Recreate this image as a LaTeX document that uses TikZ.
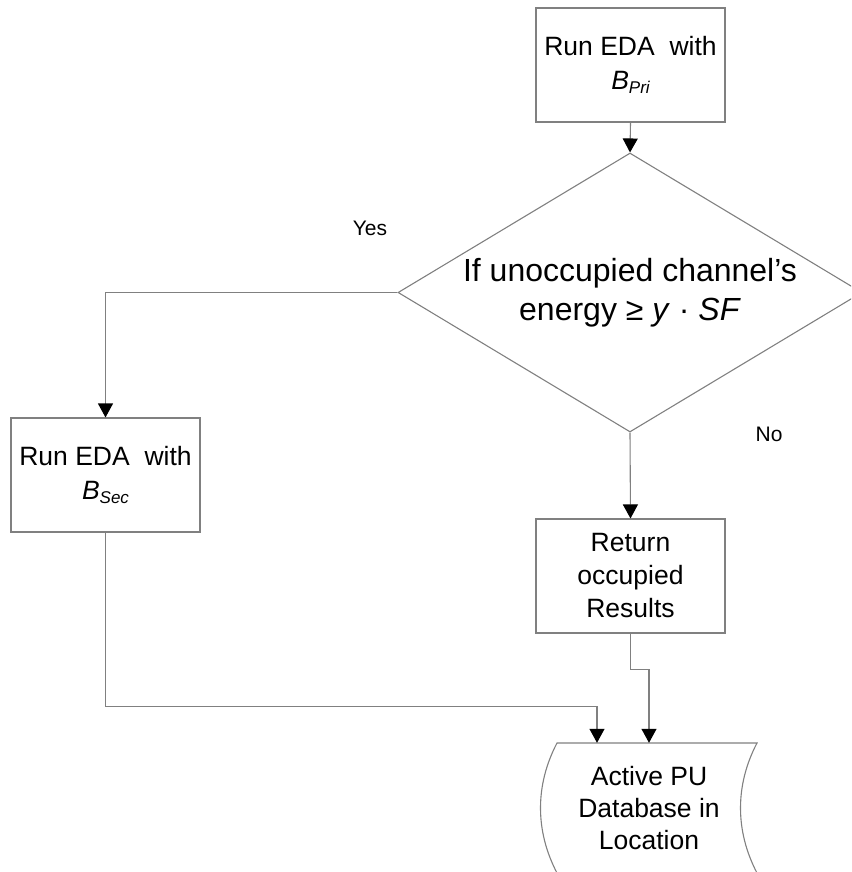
\documentclass[tikz,border=0pt]{standalone}
\usepackage{fontspec}
\setmainfont{Liberation Sans}
\usetikzlibrary{arrows.meta,shapes.geometric,calc}
\definecolor{linegray}{RGB}{128,128,128}
\newcommand{\subtxt}[1]{\raisebox{-4pt}{\fontsize{17}{17}\selectfont\itshape #1}}
\begin{document}
\begin{tikzpicture}[x=1pt,y=-1pt,
  box/.style={draw=linegray, line width=1.1pt, minimum width=189pt, minimum height=114pt,
    inner sep=0pt, align=center, font=\fontsize{26.5}{33}\selectfont},
  conn/.style={draw=linegray, line width=1.1pt, -{Triangle[width=15pt,length=14pt,color=black]}},
  plain/.style={draw=linegray, line width=1.1pt},
  lbl/.style={font=\fontsize{21}{25}\selectfont, inner sep=0pt}]
\useasboundingbox (0,0) rectangle (851,872);
\clip (0,0) rectangle (851,872);
\node[box] (top) at (630.5,65) {Run EDA\ \ with\\[1pt]\textit{B}\subtxt{Pri}};
\node[diamond, draw=linegray, line width=1.1pt, aspect=1.663, minimum width=464pt,
  minimum height=279pt, inner sep=0pt, align=center, font=\fontsize{32}{39}\selectfont]
  (dia) at (630,292.5) {If unoccupied channel’s\\energy ≥ \textit{y} · \textit{SF}};
\node[box] (lbox) at (105.5,475) {Run EDA\ \ with\\[1pt]\textit{B}\subtxt{Sec}};
\node[box] (ret) at (630.5,576) {Return\\occupied\\Results};
\node[align=center, inner sep=0pt, minimum height=130pt, font=\fontsize{26.5}{32}\selectfont]
  (db) at (649,808) {Active PU\\Database in\\Location};
\draw[plain] (557,873) .. controls (535,831) and (535,785) .. (557,743) -- (757,743)
  .. controls (735,785) and (735,831) .. (757,873);
\node[lbl] (yes) at (370,228) {Yes};
\node[lbl] (no) at (769,434) {No};
\draw[conn] (top.south) -- (dia.north);
\draw[conn] (dia.west) -| (lbox.north);
\draw[conn] (dia.south) -- (ret.north);
\draw[conn] (ret.south) -- ++(0,36) -| (db.north);
\draw[conn] (lbox.south) |- ($(db.north)+(-52,-36)$) -- ($(db.north)+(-52,0)$);
\end{tikzpicture}
\end{document}
